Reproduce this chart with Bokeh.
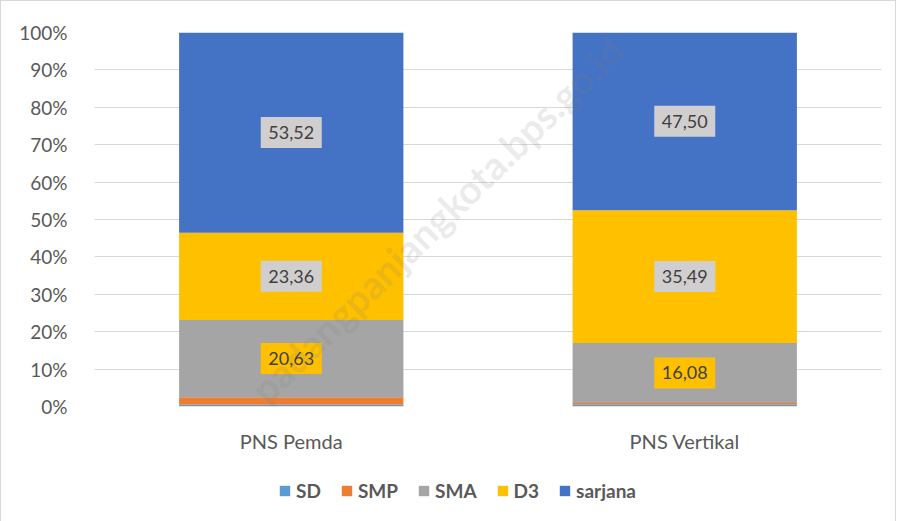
import math
from bokeh.plotting import figure
from bokeh.layouts import column
from bokeh.models import (ColumnDataSource, FactorRange, FixedTicker, Legend,
                          LegendItem, Range1d)
from bokeh.core.properties import value
from bokeh.embed import file_html
from bokeh.resources import INLINE

# ---- data ----
categories = ["PNS Pemda", "PNS Vertikal"]
series = ["SD", "SMP", "SMA", "D3", "sarjana"]
sd = [0.45, 0.48]
smp = [2.04, 0.45]
sma = [20.63, 16.08]
d3 = [23.36, 35.49]
sarjana = [53.52, 47.50]
y_ticks = [0, 10, 20, 30, 40, 50, 60, 70, 80, 90, 100]
tick_labels = ["0%", "10%", "20%", "30%", "40%", "50%", "60%", "70%", "80%", "90%", "100%"]
labeled_series = ["SMA", "D3", "sarjana"]
watermark = "padangpanjangkota.bps.go.id"

# ---- styles ----
colors = ["#5B9BD5", "#ED7D31", "#A5A5A5", "#FFC000", "#4472C4"]
label_bg = {"SMA": "#FFC000", "D3": "#D0CECE", "sarjana": "#D0CECE"}
FONT = "Lato"
TXT = "#595959"
W = 894

data = {"cat": categories, "SD": sd, "SMP": smp, "SMA": sma, "D3": d3, "sarjana": sarjana}
src = ColumnDataSource(data)

p = figure(x_range=FactorRange(*categories), y_range=Range1d(0, 100),
           width=W, height=454, output_backend="svg", toolbar_location=None,
           min_border_left=93, min_border_right=14, min_border_top=31,
           min_border_bottom=42)
p.outline_line_color = None

rends = p.vbar_stack(series, x="cat", width=0.57, color=colors, source=src,
                     line_color=None)

# data labels
for s in labeled_series:
    idx = series.index(s)
    xs, ys, texts = [], [], []
    for i, c in enumerate(categories):
        below = sum(data[series[k]][i] for k in range(idx))
        v = data[s][i]
        xs.append(c)
        ys.append(below + v / 2)
        texts.append(f"{v:.2f}".replace(".", ","))
    p.rect(x=xs, y=ys, width=61, height=31, width_units="screen",
           height_units="screen", fill_color=label_bg[s], line_color=None)
    p.text(x=xs, y=ys, text=texts, text_align="center", text_baseline="middle",
           text_font=value(FONT), text_font_size="18px", text_color="#404040")

# watermark (diagonal, faint) kept inside the plot area
p.text(x=[0.87], y=[50], text=[watermark], angle=math.radians(44.4),
       text_align="center", text_baseline="middle", text_font=value(FONT),
       text_font_style="bold", text_font_size="39px", text_color="#7F7F7F",
       text_alpha=0.17)

# axes
p.yaxis.ticker = FixedTicker(ticks=y_ticks)
p.yaxis.major_label_overrides = {t: l for t, l in zip(y_ticks, tick_labels)}
for ax in (p.xaxis[0], p.yaxis[0]):
    ax.axis_line_color = None
    ax.major_tick_line_color = None
    ax.minor_tick_line_color = None
    ax.major_label_text_font = FONT
    ax.major_label_text_color = TXT
p.yaxis.major_label_text_font_size = "19px"
p.yaxis.major_label_standoff = 21
p.xaxis.major_label_text_font_size = "20px"
p.xaxis.major_label_standoff = 16
p.xgrid.grid_line_color = None
p.ygrid.grid_line_color = "#D9D9D9"

# legend strip below the chart (zero-size proxy glyphs carry the colours)
lg = figure(width=W, height=66, x_range=Range1d(0, W), y_range=Range1d(0, 66),
            output_backend="svg", toolbar_location=None,
            x_axis_location=None, y_axis_location=None, min_border=0)
lg.outline_line_color = None
lg.grid.grid_line_color = None
proxies = [lg.vbar(x=[0], top=[0], bottom=[0], width=0, fill_color=c, line_color=None)
           for c in colors]
legend = Legend(items=[LegendItem(label=s, renderers=[r]) for s, r in zip(series, proxies)],
                orientation="horizontal", location=(184, 19),
                label_text_font=FONT, label_text_font_style="bold",
                label_text_font_size="19px", label_text_color=TXT,
                glyph_width=13, glyph_height=13, label_standoff=5, spacing=19,
                border_line_color=None, background_fill_alpha=0, padding=0, margin=0)
lg.add_layout(legend)

layout = column(p, lg)
layout.styles = {"border": "1px solid #D9D9D9"}

open("out.html", "w").write(file_html(layout, INLINE))
